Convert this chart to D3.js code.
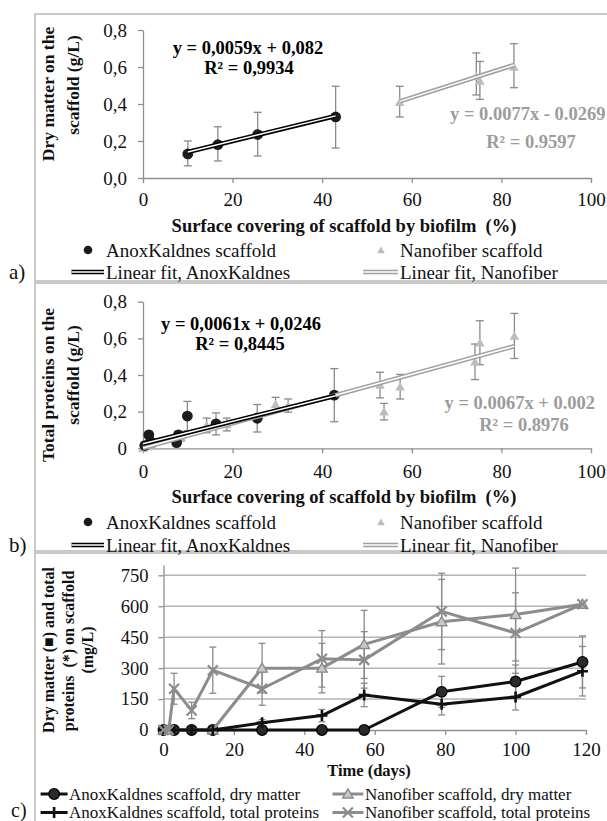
<!DOCTYPE html>
<html><head><meta charset="utf-8">
<script src="https://cdn.jsdelivr.net/npm/d3@7"></script>
<style>
html,body{margin:0;padding:0;background:#fff;}
svg{display:block;}
svg text{font-family:"Liberation Serif","Times New Roman",Times,"DejaVu Serif",serif !important;}
</style></head><body>
<svg id="chart" width="607" height="821"></svg>
<script>
// ---------- DATA ----------
const pctTicks = [0, 20, 40, 60, 80, 100];
const glTicks = [0, 0.2, 0.4, 0.6, 0.8];
const dayTicks = [0, 20, 40, 60, 80, 100, 120];
const mgTicks = [0, 150, 300, 450, 600, 750];

// panel a: dry matter vs surface covering
const aAnoxX = [10, 16.7, 25.6, 43];
const aAnoxY = [0.13, 0.18, 0.235, 0.33];
const aAnoxLo = [0.066, 0.092, 0.119, 0.162];
const aAnoxHi = [0.200, 0.277, 0.355, 0.496];
const aNanoX = [57.3, 74.4, 75.2, 82.8];
const aNanoY = [0.41, 0.55, 0.525, 0.60];
const aNanoLo = [0.33, 0.449, 0.425, 0.488];
const aNanoHi = [0.496, 0.676, 0.63, 0.726];
const aFitAnox = {slope: 0.0059, icpt: 0.082, x0: 10, x1: 43};
const aFitNano = {slope: 0.0077, icpt: -0.0269, x0: 57.3, x1: 82.8};

// panel b: total proteins vs surface covering
const bAnoxX = [0.4, 1.3, 1.7, 7.5, 7.9, 9.9, 16.3, 25.5, 42.7];
const bAnoxY = [0.015, 0.073, 0.036, 0.031, 0.073, 0.176, 0.133, 0.164, 0.29];
const bAnoxErr = [0.01, 0.02, 0.015, 0.015, 0.02, 0.08, 0.06, 0.075, 0.145];
const bNanoX = [0, 1, 2, 8.5, 14.2, 18.7, 29.6, 32.4, 52.9, 53.8, 57.4, 74.1, 75.2, 82.9];
const bNanoY = [0, 0.01, 0.02, 0.06, 0.125, 0.13, 0.24, 0.233, 0.345, 0.2, 0.336, 0.472, 0.576, 0.613];
const bNanoErr = [0, 0.01, 0.01, 0.02, 0.04, 0.035, 0.038, 0.036, 0.07, 0.045, 0.067, 0.097, 0.12, 0.123];
const bFitAnox = {slope: 0.0061, icpt: 0.0246, x0: 0, x1: 43};
const bFitNano = {slope: 0.0067, icpt: 0.002, x0: 0, x1: 82.9};

// panel c: time series (mg/L)
const cAnoxDmDays = [0, 3, 8, 14, 28, 45, 57, 79, 100, 119];
const cAnoxDm     = [0, 0, 0, 0, 0, 0, 0, 185, 235, 330];
const cAnoxDmErr  = [0, 0, 0, 0, 0, 0, 0, 75, 80, 126];
const cNanoDmDays = [0, 1.5, 14, 28, 45, 57, 79, 100, 119];
const cNanoDm     = [0, 0, 0, 300, 300, 415, 525, 560, 610];
const cNanoDmErr  = [0, 0, 0, 120, 120, 165, 205, 225, 0];
const cAnoxPrDays = [0, 3, 8, 14, 28, 45, 57, 79, 100, 119];
const cAnoxPr     = [0, 0, 0, 0, 35, 70, 170, 125, 160, 285];
const cAnoxPrErr  = [0, 0, 0, 0, 15, 30, 57, 52, 63, 120];
const cNanoPrDays = [0, 1.5, 3, 8, 14, 28, 45, 57, 79, 100, 119];
const cNanoPr     = [0, 0, 200, 95, 290, 200, 345, 340, 575, 470, 610];
const cNanoPrErr  = [0, 0, 75, 40, 112, 80, 137, 137, 185, 195, 0];

// ---------- STYLE ----------
const FONT = 'Liberation Serif, Times New Roman, serif';
const AX = '#8f8f8f';
const GRAY = '#8c8c8c';
const EQGRAY = '#9c9c9c';
const ERR = '#8a8a8a';
const FRAME = '#b8b8b8';

const svg = d3.select('#chart');

function txt(g, x, y, s, o = {}) {
  return g.append('text').attr('x', x).attr('y', y).text(s)
    .attr('font-size', o.size || 19)
    .attr('font-weight', o.bold ? 'bold' : 'normal')
    .attr('text-anchor', o.anchor || 'start')
    .attr('fill', o.fill || '#111')
    .style('white-space', 'pre');
}
function vtxt(g, cx, cy, s, size) {
  return g.append('text').attr('transform', `translate(${cx},${cy}) rotate(-90)`)
    .attr('dy', '0.35em').attr('text-anchor', 'middle')
    .attr('font-size', size).attr('font-weight', 'bold').attr('fill', '#111')
    .style('white-space', 'pre').text(s);
}
function styleAxis(ax, size) {
  ax.attr('font-family', FONT).attr('font-size', size);
  ax.selectAll('path,line').attr('stroke', AX).attr('stroke-width', 1.3);
  ax.selectAll('text').attr('fill', '#111');
}
function frame(y0, y1) {
  svg.append('rect').attr('x', 35).attr('y', y0).attr('width', 590).attr('height', y1 - y0)
    .attr('fill', 'none').attr('stroke', FRAME).attr('stroke-width', 1.5);
}
function errBar(g, cx, yLo, yHi, cap = 4) {
  if (Math.abs(yLo - yHi) < 0.5) return;
  g.append('line').attr('x1', cx).attr('x2', cx).attr('y1', yLo).attr('y2', yHi)
    .attr('stroke', ERR).attr('stroke-width', 1.3);
  [yLo, yHi].forEach(yy => g.append('line').attr('x1', cx - cap).attr('x2', cx + cap)
    .attr('y1', yy).attr('y2', yy).attr('stroke', ERR).attr('stroke-width', 1.3));
}
function doubleLine(g, x1, y1, x2, y2, col) {
  g.append('line').attr('x1', x1).attr('y1', y1).attr('x2', x2).attr('y2', y2)
    .attr('stroke', col).attr('stroke-width', 4.6);
  g.append('line').attr('x1', x1).attr('y1', y1).attr('x2', x2).attr('y2', y2)
    .attr('stroke', '#fff').attr('stroke-width', 1.5);
}
function marker(g, type, cx, cy, col, scale = 1) {
  if (type === 'circle') {
    g.append('circle').attr('cx', cx).attr('cy', cy).attr('r', 5.3 * scale)
      .attr('fill', '#2a2a2a').attr('stroke', '#000').attr('stroke-width', 1.3);
  } else if (type === 'dot') {
    g.append('circle').attr('cx', cx).attr('cy', cy).attr('r', 5.4 * scale).attr('fill', '#1c1c1c');
  } else if (type === 'tri') {
    g.append('path').attr('d', d3.symbol(d3.symbolTriangle, 40 * scale * scale)())
      .attr('transform', `translate(${cx},${cy + 1})`).attr('fill', '#bdbdbd');
  } else if (type === 'otri') {
    g.append('path').attr('d', d3.symbol(d3.symbolTriangle, 48 * scale * scale)())
      .attr('transform', `translate(${cx},${cy + 1})`).attr('fill', '#c9c9c9')
      .attr('stroke', col).attr('stroke-width', 1.4);
  } else if (type === 'plus') {
    const s = 5.5 * scale;
    g.append('path').attr('d', `M${cx - s},${cy}H${cx + s}M${cx},${cy - s}V${cy + s}`)
      .attr('stroke', col).attr('stroke-width', 2.6).attr('fill', 'none');
  } else if (type === 'x') {
    const s = 5 * scale;
    g.append('path').attr('d', `M${cx - s},${cy - s}L${cx + s},${cy + s}M${cx - s},${cy + s}L${cx + s},${cy - s}`)
      .attr('stroke', col).attr('stroke-width', 2.2).attr('fill', 'none');
  }
}

// ---------- SCATTER PANEL ----------
function scatterPanel(cfg) {
  const g = svg.append('g');
  const x = d3.scaleLinear().domain([0, 100]).range([143, 591]);
  const y = d3.scaleLinear().domain([0, 0.8]).range([cfg.y0, cfg.y8]);
  const xa = g.append('g').attr('transform', `translate(0,${y(0)})`)
    .call(d3.axisBottom(x).tickValues(pctTicks).tickSize(5).tickSizeOuter(0)
      .tickPadding(cfg.xpad).tickFormat(d3.format('d')));
  styleAxis(xa, 19);
  const ya = g.append('g').attr('transform', `translate(${x(0)},0)`)
    .call(d3.axisLeft(y).tickValues(glTicks).tickSize(5).tickSizeOuter(0)
      .tickPadding(11).tickFormat(cfg.yfmt));
  styleAxis(ya, 19);

  cfg.anoxX.forEach((v, i) => errBar(g, x(v), y(cfg.anoxLo[i]), y(cfg.anoxHi[i])));
  cfg.nanoX.forEach((v, i) => errBar(g, x(v), y(cfg.nanoLo[i]), y(cfg.nanoHi[i])));
  cfg.nanoX.forEach((v, i) => marker(g, 'tri', x(v), y(cfg.nanoY[i]), GRAY));
  cfg.anoxX.forEach((v, i) => marker(g, 'dot', x(v), y(cfg.anoxY[i]), '#000'));
  cfg.fits.forEach(f => doubleLine(g, x(f.fit.x0), y(f.fit.slope * f.fit.x0 + f.fit.icpt),
    x(f.fit.x1), y(f.fit.slope * f.fit.x1 + f.fit.icpt), f.col));

  vtxt(g, 48, cfg.yl1c, cfg.ylab[0], 17.5);
  vtxt(g, 73, cfg.yl2c, cfg.ylab[1], 17.5);
  txt(g, 344, cfg.xtitle, 'Surface covering of scaffold by biofilm  (%)', {bold: true, size: 18.5, anchor: 'middle'});
  txt(g, cfg.eq1[0], cfg.eq1[1], cfg.eqB[0], {bold: true, size: 18.5, anchor: 'middle', fill: '#000'});
  txt(g, cfg.eq2[0], cfg.eq2[1], cfg.eqB[1], {bold: true, size: 18.5, anchor: 'middle', fill: '#000'});
  txt(g, cfg.eq3[0], cfg.eq3[1], cfg.eqG[0], {bold: true, size: 18.5, fill: EQGRAY});
  txt(g, cfg.eq4[0], cfg.eq4[1], cfg.eqG[1], {bold: true, size: 18.5, anchor: 'middle', fill: EQGRAY});
  const r1 = cfg.leg1, r2 = cfg.leg2;
  marker(g, 'dot', 88, r1, '#000', 0.8);
  txt(g, 106, r1 + 6.5, 'AnoxKaldnes scaffold', {size: 19});
  marker(g, 'tri', 381, r1, GRAY, 0.8);
  txt(g, 400, r1 + 6.5, 'Nanofiber scaffold', {size: 19});
  doubleLine(g, 71.5, r2, 104, r2, '#000');
  txt(g, 106, r2 + 6.5, 'Linear fit, AnoxKaldnes', {size: 19});
  doubleLine(g, 363, r2, 398, r2, '#a0a0a0');
  txt(g, 400, r2 + 6.5, 'Linear fit, Nanofiber', {size: 19});
  txt(g, 9, r2 + 7, cfg.tag, {size: 21});
}

frame(14, 281);
frame(283, 551);
frame(553, 830);

scatterPanel({
  y0: 178, y8: 30, xpad: 10, yfmt: v => v.toFixed(1).replace('.', ','),
  anoxX: aAnoxX, anoxY: aAnoxY, anoxLo: aAnoxLo, anoxHi: aAnoxHi,
  nanoX: aNanoX, nanoY: aNanoY, nanoLo: aNanoLo, nanoHi: aNanoHi,
  fits: [{fit: aFitAnox, col: '#000'}, {fit: aFitNano, col: '#a0a0a0'}],
  ylab: ['Dry matter on the', 'scaffold (g/L)'], yl1c: 94, yl2c: 85,
  xtitle: 231.5,
  eqB: ['y = 0,0059x + 0,082', 'R² = 0,9934'], eq1: [248, 53.5], eq2: [249, 73.5],
  eqG: ['y = 0.0077x - 0.0269', 'R² = 0.9597'], eq3: [450, 120], eq4: [531, 148],
  leg1: 250, leg2: 272, tag: 'a)'
});

scatterPanel({
  y0: 448.3, y8: 301.7, xpad: 11.5, yfmt: v => v === 0 ? '0' : v.toFixed(1).replace('.', ','),
  anoxX: bAnoxX, anoxY: bAnoxY,
  anoxLo: bAnoxY.map((v, i) => v - bAnoxErr[i]), anoxHi: bAnoxY.map((v, i) => v + bAnoxErr[i]),
  nanoX: bNanoX, nanoY: bNanoY,
  nanoLo: bNanoY.map((v, i) => v - bNanoErr[i]), nanoHi: bNanoY.map((v, i) => v + bNanoErr[i]),
  fits: [{fit: bFitNano, col: '#a0a0a0'}, {fit: bFitAnox, col: '#000'}],
  ylab: ['Total proteins on the', 'scaffold (g/L)'], yl1c: 385, yl2c: 375,
  xtitle: 502.5,
  eqB: ['y = 0,0061x + 0,0246', 'R² = 0,8445'], eq1: [241, 330], eq2: [240, 350],
  eqG: ['y = 0.0067x + 0.002', 'R² = 0.8976'], eq3: [444.5, 409], eq4: [524, 431],
  leg1: 522, leg2: 545, tag: 'b)'
});

// ---------- PANEL C ----------
(function () {
  const g = svg.append('g');
  const x = d3.scaleLinear().domain([0, 120]).range([163.5, 586]);
  const y = d3.scaleLinear().domain([0, 800]).range([730, 565]);
  mgTicks.filter(v => v > 0).forEach(v => g.append('line')
    .attr('x1', x(0)).attr('x2', x(120)).attr('y1', y(v)).attr('y2', y(v))
    .attr('stroke', '#b4b4b4').attr('stroke-width', 1.5));
  const xa = g.append('g').attr('transform', `translate(0,${y(0)})`)
    .call(d3.axisBottom(x).tickValues(dayTicks).tickSize(5).tickSizeOuter(0)
      .tickPadding(8).tickFormat(d3.format('d')));
  styleAxis(xa, 19);
  const ya = g.append('g').attr('transform', `translate(${x(0)},0)`)
    .call(d3.axisLeft(y).tickValues(mgTicks).tickSize(5).tickSizeOuter(0).tickPadding(10));
  styleAxis(ya, 18.5);

  const series = [
    {days: cAnoxDmDays, vals: cAnoxDm, errs: cAnoxDmErr, col: '#111', m: 'circle', name: 'AnoxKaldnes scaffold, dry matter'},
    {days: cNanoDmDays, vals: cNanoDm, errs: cNanoDmErr, col: GRAY, m: 'otri', name: 'Nanofiber scaffold, dry matter'},
    {days: cAnoxPrDays, vals: cAnoxPr, errs: cAnoxPrErr, col: '#111', m: 'plus', name: 'AnoxKaldnes scaffold, total proteins'},
    {days: cNanoPrDays, vals: cNanoPr, errs: cNanoPrErr, col: GRAY, m: 'x', name: 'Nanofiber scaffold, total proteins'}
  ];
  series.forEach(s => s.days.forEach((d, i) =>
    errBar(g, x(d), y(s.vals[i] - s.errs[i]), y(s.vals[i] + s.errs[i]), 3.5)));
  const line = d3.line().x(d => x(d[0])).y(d => y(d[1]));
  series.forEach(s => {
    g.append('path').attr('d', line(s.days.map((d, i) => [d, s.vals[i]])))
      .attr('fill', 'none').attr('stroke', s.col).attr('stroke-width', 3).attr('stroke-linejoin', 'round');
    s.days.forEach((d, i) => marker(g, s.m, x(d), y(s.vals[i]), s.col));
  });

  vtxt(g, 48, 650, 'Dry matter (■) and total', 16);
  vtxt(g, 68, 651, 'proteins  (*) on scaffold', 16);
  vtxt(g, 87, 650, '(mg/L)', 16);
  txt(g, 369, 775.5, 'Time (days)', {bold: true, size: 16.5, anchor: 'middle'});

  const legPos = [[40.6, 67.6, 794], [332.4, 363.4, 794], [40.6, 67.6, 812.5], [332.4, 363.4, 812.5]];
  series.forEach((s, i) => {
    const [lx0, lx1, ly] = legPos[i];
    g.append('line').attr('x1', lx0).attr('x2', lx1).attr('y1', ly).attr('y2', ly)
      .attr('stroke', s.col).attr('stroke-width', 3);
    marker(g, s.m, (lx0 + lx1) / 2, ly, s.col);
    txt(g, lx1 + 1.5, ly + 5.5, s.name, {size: 17});
  });
  txt(g, 11, 817, 'c)', {size: 20});
})();
</script>
</body></html>
